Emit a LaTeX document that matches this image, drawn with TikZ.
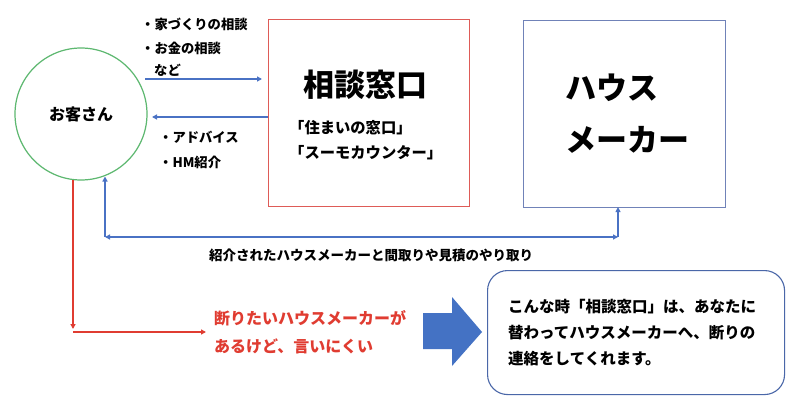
\documentclass[tikz,border=0pt]{standalone}
\usepackage{fontspec}
\setmainfont{Noto Sans CJK JP}
\usetikzlibrary{arrows.meta}
\definecolor{cred}{HTML}{E03C31}
\definecolor{cboxred}{HTML}{DE5B57}
\definecolor{cblue}{HTML}{4A72C4}
\definecolor{cgreen}{HTML}{5DB870}
\definecolor{chmblue}{HTML}{7082B8}
\definecolor{cmsgblue}{HTML}{4A67A8}
\definecolor{cbigarrow}{HTML}{4472C4}
\tikzset{
  barrow/.style={draw=cblue, line width=2pt, -{Triangle[length=5pt,width=5pt]}},
  bdarrow/.style={draw=cblue, line width=2pt, {Triangle[length=5pt,width=5pt]}-{Triangle[length=5pt,width=5pt]}},
  rarrow/.style={draw=cred, line width=2pt, -{Triangle[length=5pt,width=5pt]}},
  lbl/.style={anchor=west, inner sep=0pt, font=\bfseries\fontsize{13.3}{15}\selectfont},
  bigtxt/.style={inner sep=0pt, font=\bfseries\fontsize{31}{36}\selectfont},
}
\begin{document}
\begin{tikzpicture}[x=1pt,y=-1pt]
\useasboundingbox (0,0) rectangle (795,412);
\fill[white] (0,0) rectangle (795,412);

% customer circle
\node[circle, draw=cgreen, line width=1.2pt, minimum size=132pt, inner sep=0pt,
      font=\bfseries\fontsize{16}{18}\selectfont] (cust) at (81,114) {お客さん};

% consultation box
\node[draw=cboxred, line width=1.1pt, minimum width=201pt, minimum height=187pt,
      anchor=north west, inner sep=0pt] (soudan) at (268,19) {};
\node[bigtxt] (stitle) at (365,85) {相談窓口};
\node[lbl, font=\bfseries\fontsize{15.3}{17}\selectfont] (s1) at (289,128) {「住まいの窓口」};
\node[lbl, font=\bfseries\fontsize{15.3}{17}\selectfont] (s2) at (289,153) {「スーモカウンター」};

% house maker box
\node[draw=chmblue, line width=1.1pt, minimum width=202pt, minimum height=187pt,
      anchor=north west, inner sep=0pt] (hm) at (523,20) {};
\node[bigtxt, anchor=west] (hm1) at (565,88) {ハウス};
\node[bigtxt, anchor=west] (hm2) at (565,140) {メーカー};

% labels top
\node[lbl] (t1) at (141,24) {・家づくりの相談};
\node[lbl] (t2) at (141,48) {・お金の相談};
\node[lbl] (t3) at (154,70) {など};
\node[lbl] (t4) at (159,137) {・アドバイス};
\node[lbl] (t5) at (159,162) {・HM紹介};

% arrows between customer and consultation
\coordinate (a1) at (145,79);
\draw[barrow] (a1) -- ([xshift=-6pt]a1 -| soudan.west);
\coordinate (r1) at (152,117);
\draw[barrow] (r1 -| soudan.west) -- (r1);

% bottom blue connector
\coordinate (bl) at (105,237);
\coordinate (br) at (618,237);
\coordinate (ct) at (105,176.5);
\draw[barrow] (bl) -- (ct);
\draw[bdarrow] (bl) -- (br);
\draw[barrow] (br) -- ([yshift=1pt]br |- hm.south);
\node[lbl, font=\bfseries\fontsize{13.5}{15}\selectfont] (intro) at (209,255)
  {紹介されたハウスメーカーと間取りや見積のやり取り};

% red connector
\coordinate (rt) at (73,180);
\coordinate (rb) at (73,329);
\coordinate (rl) at (73,332);
\coordinate (rr) at (206,332);
\draw[rarrow] (rt) -- (rb);
\draw[rarrow] (rl) -- (rr);
\node[anchor=west, align=left, inner sep=0pt, text=cred,
      font=\bfseries\fontsize{16}{28}\selectfont] (hard) at (214,332)
  {断りたいハウスメーカーが\\あるけど、言いにくい};

% big arrow
\fill[cbigarrow] (423,313) -- (452,313) -- (452,297) -- (482,332) -- (452,366)
  -- (452,349) -- (423,349) -- cycle;

% message box
\node[draw=cmsgblue, line width=1.1pt, rounded corners=20pt, minimum width=297pt,
      minimum height=124pt, anchor=north west, inner sep=0pt] (msg) at (487,270) {};
\node[anchor=west, align=left, inner sep=0pt,
      font=\bfseries\fontsize{15.5}{26}\selectfont] (msgtxt) at (508,333)
  {こんな時「相談窓口」は、あなたに\\替わってハウスメーカーへ、断りの\\連絡をしてくれます。};
\end{tikzpicture}
\end{document}
